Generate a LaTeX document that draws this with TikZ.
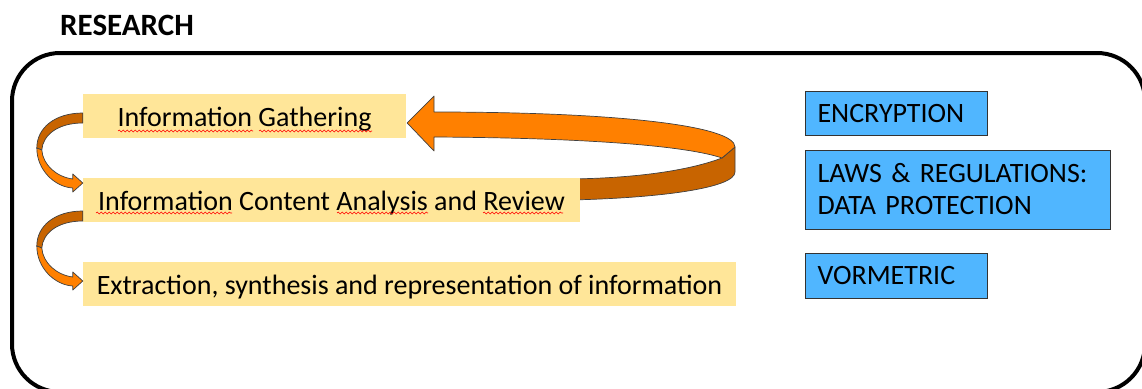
\documentclass[tikz,border=0pt]{standalone}
\usepackage{fontspec}
\setmainfont{Carlito}
\usetikzlibrary{calc,backgrounds,decorations.pathmorphing}
\definecolor{paleyellow}{RGB}{255,230,153}
\definecolor{skyblue}{RGB}{80,182,255}
\definecolor{brightorange}{RGB}{255,128,0}
\definecolor{darkorange}{RGB}{200,100,0}
\begin{document}
\begin{tikzpicture}[x=1pt,y=-1pt,
  stepbox/.style={fill=paleyellow, inner sep=0pt, minimum height=44pt,
    font=\fontsize{28}{33}\selectfont, text height=22pt, text depth=2pt},
  topicbox/.style={fill=skyblue, draw=black!80, line width=1pt, inner xsep=12pt,
    inner ysep=0pt, align=left, font=\fontsize{28}{31.5}\selectfont,
    text height=20pt, text depth=3pt, anchor=north west},
  arrowline/.style={draw=black!75, line width=0.7pt, line join=round},
  squiggle/.style={draw=red, line width=0.6pt, decorate,
    decoration={snake, amplitude=0.9pt, segment length=4pt}},
  pics/curvedarrow/.style={code={
    \filldraw[arrowline, fill=darkorange]
      (0,0) .. controls (-28,0) and (-46,15) .. (-46,35)
      -- (-41,37) .. controls (-40,22) and (-25,10) .. (0,10) -- cycle;
    \filldraw[arrowline, fill=brightorange]
      (-46,35) .. controls (-46,57) and (-28,74) .. (-10,75)
      -- (-10,79) -- (0,70) -- (-10,61) -- (-10,66)
      .. controls (-26,64) and (-40,52) .. (-41,37) -- cycle;
  }}]
\useasboundingbox (0,0) rectangle (1142,388);

% title
\node[anchor=base west, inner sep=0pt, font=\fontsize{31}{36}\selectfont\bfseries]
  (title) at (60,35) {RESEARCH};

% outer frame
\draw[line width=4pt, rounded corners=48pt] (12,53) rectangle (1145,392);

% process steps
\node[stepbox, minimum width=323pt] (g1) at (244.5,116) {Information Gathering};
\node[stepbox, minimum width=497pt] (g2) at (331.5,200) {Information Content Analysis and Review};
\node[stepbox, minimum width=653pt] (g3) at (409.5,284) {Extraction, synthesis and representation of information};

% spell-check marks
\draw[squiggle] (118,131) -- (253,131);
\draw[squiggle] (259,131) -- (372,131);
\draw[squiggle] (96,213) -- (232,213);
\draw[squiggle] (337,213) -- (428,213);
\draw[squiggle] (483,213) -- (563,213);

% topics
\node[topicbox, text width=158pt, minimum height=44pt] (enc) at (805,91) {ENCRYPTION};
\node[topicbox, text width=281pt, minimum height=79pt, text depth=34.5pt] (laws) at (805,150)
  {\begin{tabular}[t]{@{}l@{}}LAWS \& REGULATIONS:\\DATA PROTECTION\end{tabular}};
\node[topicbox, text width=158pt, minimum height=45pt] (vorm) at (805,253) {VORMETRIC};

% curved arrows between steps
\pic at ($(g1.west)+(0,-3)$) {curvedarrow};
\pic at ($(g2.west)+(0,11)$) {curvedarrow};

% loop arrow from review back to gathering
\begin{pgfonlayer}{background}
\coordinate (tip) at ($(g1.east)+(1,7)$);
\coordinate (tail) at ($(g2.east)+(-10,0)$);
\filldraw[arrowline, fill=darkorange]
  (735,147) -- (735,172) .. controls (735,188) and (660,198) .. (tail |- 0,200)
  -- (tail |- 0,179) .. controls (640,178) and (690,170) .. (722,158) -- cycle;
\filldraw[arrowline, fill=brightorange]
  (tip) -- (434,96) -- (434,112) .. controls (620,112) and (735,126) .. (735,147)
  -- (722,158) .. controls (690,147) and (600,138) .. (434,137) -- (434,151) -- cycle;
\end{pgfonlayer}
\end{tikzpicture}
\end{document}
